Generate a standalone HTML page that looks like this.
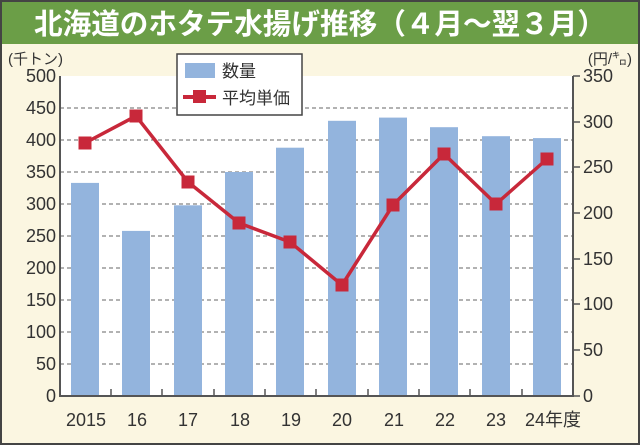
<!DOCTYPE html>
<html><head><meta charset="utf-8"><style>
html,body{margin:0;padding:0}
body{width:640px;height:445px;overflow:hidden;background:#fff}
svg{display:block}
text{font-family:"Liberation Sans","Noto Sans CJK JP",sans-serif}
</style></head><body>
<svg width="640" height="445" viewBox="0 0 640 445" xmlns="http://www.w3.org/2000/svg">
<rect x="1" y="1" width="638" height="443" fill="#fbf6e1" stroke="#444" stroke-width="2"/>
<rect x="2" y="2" width="636" height="42" fill="#6b9e47"/>
<text x="320" y="34" text-anchor="middle" font-size="29" font-weight="bold" fill="#fff" textLength="572" lengthAdjust="spacingAndGlyphs">北海道のホタテ水揚げ推移（４月～翌３月）</text>
<rect x="60" y="76" width="513" height="320" fill="#fff"/>
<g stroke="#666" stroke-width="1" stroke-dasharray="4,3">
<line x1="60" x2="573" y1="108" y2="108"/><line x1="60" x2="573" y1="140" y2="140"/>
<line x1="60" x2="573" y1="172" y2="172"/><line x1="60" x2="573" y1="204" y2="204"/>
<line x1="60" x2="573" y1="236" y2="236"/><line x1="60" x2="573" y1="268" y2="268"/>
<line x1="60" x2="573" y1="300" y2="300"/><line x1="60" x2="573" y1="332" y2="332"/>
<line x1="60" x2="573" y1="364" y2="364"/>
</g>
<g fill="#93b4dd">
<rect x="71" y="182.9" width="28" height="213.1"/>
<rect x="122" y="230.9" width="28" height="165.1"/>
<rect x="174" y="205.3" width="28" height="190.7"/>
<rect x="225" y="172" width="28" height="224"/>
<rect x="276" y="147.7" width="28" height="248.3"/>
<rect x="328" y="120.8" width="28" height="275.2"/>
<rect x="379" y="117.6" width="28" height="278.4"/>
<rect x="430" y="127.2" width="28" height="268.8"/>
<rect x="482" y="136.2" width="28" height="259.8"/>
<rect x="533" y="138.1" width="28" height="257.9"/>
</g>
<g stroke="#555" stroke-width="2" fill="none">
<line x1="60" y1="76" x2="60" y2="397"/>
<line x1="573" y1="76" x2="573" y2="397"/>
<line x1="59" y1="396" x2="574" y2="396"/>
</g>
<g stroke="#555" stroke-width="1.5">
<line x1="111" x2="111" y1="396" y2="389"/><line x1="162" x2="162" y1="396" y2="389"/>
<line x1="214" x2="214" y1="396" y2="389"/><line x1="265" x2="265" y1="396" y2="389"/>
<line x1="316" x2="316" y1="396" y2="389"/><line x1="368" x2="368" y1="396" y2="389"/>
<line x1="419" x2="419" y1="396" y2="389"/><line x1="470" x2="470" y1="396" y2="389"/>
<line x1="522" x2="522" y1="396" y2="389"/>
<line x1="573" x2="580" y1="76" y2="76"/><line x1="573" x2="580" y1="122" y2="122"/>
<line x1="573" x2="580" y1="167" y2="167"/><line x1="573" x2="580" y1="213" y2="213"/>
<line x1="573" x2="580" y1="259" y2="259"/><line x1="573" x2="580" y1="304" y2="304"/>
<line x1="573" x2="580" y1="350" y2="350"/><line x1="573" x2="580" y1="396" y2="396"/>
</g>
<polyline fill="none" stroke="#c8283a" stroke-width="3.5" points="85,143 136,116 188,182 239,223 290,242 342,285 393,205 444,154 496,204 547,159"/>
<g fill="#c8283a">
<rect x="78.5" y="136.5" width="13" height="13"/><rect x="129.5" y="109.5" width="13" height="13"/>
<rect x="181.5" y="175.5" width="13" height="13"/><rect x="232.5" y="216.5" width="13" height="13"/>
<rect x="283.5" y="235.5" width="13" height="13"/><rect x="335.5" y="278.5" width="13" height="13"/>
<rect x="386.5" y="198.5" width="13" height="13"/><rect x="437.5" y="147.5" width="13" height="13"/>
<rect x="489.5" y="197.5" width="13" height="13"/><rect x="540.5" y="152.5" width="13" height="13"/>
</g>
<rect x="177" y="54" width="125" height="61" fill="#fff" stroke="#444" stroke-width="1.5"/>
<rect x="185" y="63" width="30" height="15" fill="#93b4dd"/>
<text x="222" y="77" font-size="17" fill="#333">数量</text>
<line x1="183" x2="216" y1="97" y2="97" stroke="#c8283a" stroke-width="4"/>
<rect x="193" y="90" width="13" height="13" fill="#c8283a"/>
<text x="222" y="104" font-size="17" fill="#333">平均単価</text>
<g font-size="18" fill="#333" text-anchor="end">
<text x="56" y="82">500</text><text x="56" y="114">450</text><text x="56" y="146">400</text>
<text x="56" y="178">350</text><text x="56" y="210">300</text><text x="56" y="242">250</text>
<text x="56" y="274">200</text><text x="56" y="306">150</text><text x="56" y="338">100</text>
<text x="56" y="370">50</text><text x="56" y="402">0</text>
</g>
<g font-size="18" fill="#333" text-anchor="start">
<text x="583" y="82">350</text><text x="583" y="128">300</text><text x="583" y="173">250</text>
<text x="583" y="219">200</text><text x="583" y="265">150</text><text x="583" y="310">100</text>
<text x="583" y="356">50</text><text x="583" y="402">0</text>
</g>
<text x="8" y="64" font-size="15" fill="#333">(千トン)</text>
<text x="632" y="64" font-size="15" fill="#333" text-anchor="end">(円/㌔)</text>
<g font-size="18" fill="#333" text-anchor="middle">
<text x="86" y="426">2015</text><text x="137" y="426">16</text><text x="188" y="426">17</text>
<text x="240" y="426">18</text><text x="291" y="426">19</text><text x="342" y="426">20</text>
<text x="394" y="426">21</text><text x="445" y="426">22</text><text x="496" y="426">23</text>
<text x="553" y="426">24年度</text>
</g>
</svg>
</body></html>
